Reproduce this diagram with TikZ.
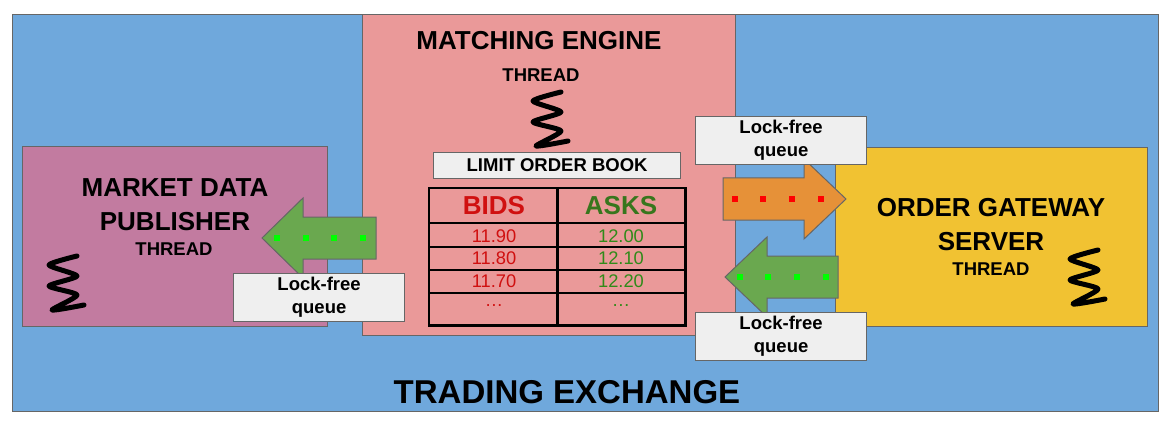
\documentclass[tikz,border=0pt]{standalone}
\usepackage{fontspec}
\setmainfont{Liberation Sans}
\usetikzlibrary{positioning}

\definecolor{exchblue}{HTML}{6FA8DC}
\definecolor{engpink}{HTML}{EA9999}
\definecolor{pubpurple}{HTML}{C27BA0}
\definecolor{gateyellow}{HTML}{F1C232}
\definecolor{arrowgreen}{HTML}{6AA84F}
\definecolor{arroworange}{HTML}{E69138}
\definecolor{queuegray}{HTML}{EFEFEF}
\definecolor{edgegray}{HTML}{666666}
\definecolor{bidred}{HTML}{D01010}
\definecolor{askgreen}{HTML}{38761D}

\tikzset{
	panel/.style={draw=edgegray, line width=1.2pt, inner sep=0pt, anchor=north west},
	queuebox/.style={panel, fill=queuegray, minimum width=171pt, minimum height=48pt},
	pipe/.style={draw=edgegray, line width=1pt},
	grid/.style={line width=2.8pt, black},
	squiggle/.style={line width=5pt, line cap=round, line join=round},
	bigtext/.style={font=\fontsize{26}{34}\selectfont\bfseries, align=center, inner sep=0pt},
	smalltext/.style={font=\fontsize{18.5}{23}\selectfont\bfseries, align=center, inner sep=0pt},
	numtext/.style={font=\fontsize{18.3}{22}\selectfont, inner sep=0pt}
}

\newcommand{\spring}[1]{%
	\draw[squiggle, shift={(#1)}] plot[smooth, tension=0.4] coordinates
		{(12,-27) (-16,-18) (12,-7) (-16,3) (12,12) (-13,27) (19,22)};
}

\begin{document}
\begin{tikzpicture}[x=1pt, y=-1pt]
	\useasboundingbox[fill=white] (0,0) rectangle (1176,425);

	% the boxes
	\node[panel, fill=exchblue, minimum width=1146pt, minimum height=397pt] (exchange) at (12,14) {};
	\node[panel, fill=engpink, minimum width=373pt, minimum height=321pt] (engine) at (362,14) {};
	\node[panel, fill=pubpurple, minimum width=305pt, minimum height=180pt] (publisher) at (22,146) {};
	\node[panel, fill=gateyellow, minimum width=312pt, minimum height=179pt] (gateway) at (835,147) {};

	% titles
	\node[bigtext] (exchtitle) at (567,392) {\fontsize{33}{40}\selectfont TRADING EXCHANGE};
	\node[bigtext] (engtitle) at (539,41) {MATCHING ENGINE};
	\node[smalltext] (engthread) at (541,75) {THREAD};
	\node[bigtext] (pubtitle) at (175,205) {MARKET DATA\\PUBLISHER};
	\node[smalltext] (pubthread) at (174,249) {THREAD};
	\node[bigtext] (gatetitle) at (991,225) {ORDER GATEWAY\\SERVER};
	\node[smalltext] (gatethread) at (991,269) {THREAD};

	\spring{549,119}
	\spring{65,283}
	\spring{1086,277}

	% limit order book
	\node[panel, fill=queuegray, minimum width=247pt, minimum height=26pt] (booklabel) at (433,152) {};
	\node[smalltext] (booktext) at (booklabel.center) {LIMIT ORDER BOOK};
	\node[anchor=north west, minimum width=256pt, minimum height=137pt, inner sep=0pt] (book) at (429,188) {};
	\draw[grid] (book.north west) rectangle (book.south east);
	\draw[grid] (book.north) -- (book.south);
	\foreach \y in {223,247,270,293}
	{
		\draw[grid] (book.west |- 0,\y) -- (book.east |- 0,\y);
	}
	\node[bigtext, text=bidred] (bids) at (494,206) {BIDS};
	\node[bigtext, text=askgreen] (asks) at (621,206) {ASKS};
	\foreach \y/\b/\a [count=\i] in {236/11.90/12.00, 258/11.80/12.10, 281/11.70/12.20, 306/\ldots/\ldots}
	{
		\node[numtext, text=bidred] (bid\i) at (494,\y) {\b};
		\node[numtext, text=askgreen!85!green] (ask\i) at (621,\y) {\a};
	}

	% queues between threads
	\draw[pipe, fill=arrowgreen] (376,217) -- (303,217) -- (303,198) -- (262,238) -- (303,278) -- (303,259) -- (376,259) -- cycle;
	\foreach \x in {277,306,334,363}
	{
		\fill[green] (\x-3,235) rectangle ++(6,6);
	}
	\draw[pipe, fill=arroworange] (723,178) -- (804,178) -- (804,159) -- (846,199) -- (804,239) -- (804,220) -- (723,220) -- cycle;
	\foreach \x in {735,763,792,821}
	{
		\fill[red] (\x-3,196) rectangle ++(6,6);
	}
	\draw[pipe, fill=arrowgreen] (838,256) -- (767,256) -- (767,237) -- (725,277) -- (767,317) -- (767,298) -- (838,298) -- cycle;
	\foreach \x in {740,768,797,826}
	{
		\fill[green] (\x-3,274) rectangle ++(6,6);
	}

	\node[queuebox] (pubqueue) at (233,273) {};
	\node[smalltext] (pubqtext) at (pubqueue.center) {Lock-free\\queue};
	\node[queuebox] (inqueue) at (695,116) {};
	\node[smalltext] (inqtext) at (inqueue.center) {Lock-free\\queue};
	\node[queuebox] (outqueue) at (695,312) {};
	\node[smalltext] (outqtext) at (outqueue.center) {Lock-free\\queue};
\end{tikzpicture}
\end{document}
